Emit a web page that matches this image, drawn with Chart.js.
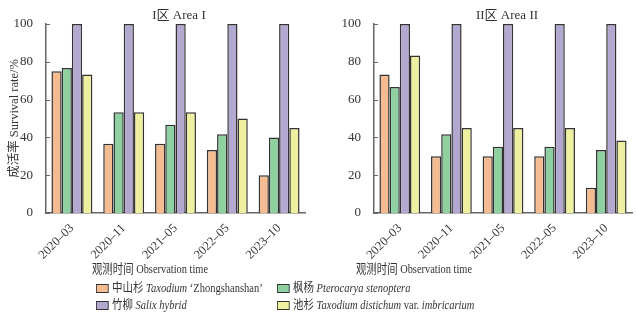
<!DOCTYPE html>
<html>
<head>
<meta charset="utf-8">
<script src="https://cdn.jsdelivr.net/npm/chart.js@4"></script>
<style>
  body { margin: 0; background: #fff; font-family: "Liberation Serif", "Noto Sans CJK SC", serif; color: #333; }
  #wrap { position: relative; width: 637px; height: 316px; overflow: hidden; }
  .box { position: absolute; top: 0; height: 262px; }
  .txt { position: absolute; white-space: nowrap; font-size: 12.5px; line-height: 14px; transform: scaleX(0.84); transform-origin: left center; }
  .ttl { position: absolute; white-space: nowrap; font-size: 13px; transform: translateX(-50%); }
  .xt { position: absolute; white-space: nowrap; font-size: 13px; transform: translateX(-50%) scaleX(0.8); }
  .sw { display: inline-block; width: 13px; height: 7px; border: 1.5px solid #333; margin-right: 4px; vertical-align: -1px; }
</style>
</head>
<body>
<div id="wrap">
  <div class="box" style="left:0;width:310px"><canvas id="c1"></canvas></div>
  <div class="box" style="left:320px;width:317px"><canvas id="c2"></canvas></div>

  <div class="ttl" style="left:179px;top:4px">I区 Area I</div>
  <div class="ttl" style="left:507px;top:4px">II区 Area II</div>
  <div class="xt" style="left:150px;top:258px">观测时间 Observation time</div>
  <div class="xt" style="left:414px;top:258px">观测时间 Observation time</div>

  <div class="txt" style="left:96px;top:281px"><span class="sw" style="background:#F5BB91"></span>中山杉 <i>Taxodium</i> ‘Zhongshanshan’</div>
  <div class="txt" style="left:277px;top:281px"><span class="sw" style="background:#8FD0A1"></span>枫杨 <i>Pterocarya stenoptera</i></div>
  <div class="txt" style="left:96px;top:298px"><span class="sw" style="background:#B3A8D0"></span>竹柳 <i>Salix hybrid</i></div>
  <div class="txt" style="left:277px;top:298px"><span class="sw" style="background:#EFEFA0"></span>池杉 <i>Taxodium distichum</i> var. <i>imbricarium</i></div>
</div>
<script>
// observation dates
const dates = ["2020–03", "2020–11", "2021–05", "2022–05", "2023–10"];

const species = ["中山杉 Taxodium ‘Zhongshanshan’", "枫杨 Pterocarya stenoptera", "竹柳 Salix hybrid", "池杉 Taxodium distichum var. imbricarium"];

// Area I survival rate (%)
const area1Zhongshan = [75, 36.7, 36.7, 33.3, 20];
const area1Pterocarya = [76.7, 53.3, 46.7, 41.7, 40];
const area1Salix = [100, 100, 100, 100, 100];
const area1Chishan = [73.3, 53.3, 53.3, 50, 45];

// Area II survival rate (%)
const area2Zhongshan = [73.3, 30, 30, 30, 13.3];
const area2Pterocarya = [66.7, 41.7, 35, 35, 33.3];
const area2Salix = [100, 100, 100, 100, 100];
const area2Chishan = [83.3, 45, 45, 45, 38.3];

const colors = ["#F5BB91", "#8FD0A1", "#B3A8D0", "#EFEFA0"];
const fontFam = "'Liberation Serif', 'Noto Sans CJK SC', serif";

// small ticks pointing into the plot on the y axis
const innerTicks = {
    id: "innerTicks",
    afterDraw(chart) {
        const { ctx, scales: { y } } = chart;
        ctx.save();
        ctx.strokeStyle = "#666";
        ctx.lineWidth = 1;
        y.ticks.forEach((t, i) => {
            const py = Math.round(y.getPixelForTick(i)) + 0.5;
            ctx.beginPath();
            ctx.moveTo(y.right, py);
            ctx.lineTo(y.right + 4, py);
            ctx.stroke();
        });
        ctx.restore();
    }
};

function makeChart(id, series, yWidth, padLeft, showTitle) {
    new Chart(document.getElementById(id), {
        type: "bar",
        data: {
            labels: dates,
            datasets: series.map((d, i) => ({
                label: species[i],
                data: d,
                backgroundColor: colors[i],
                borderColor: "#333",
                borderWidth: 1.5,
                borderSkipped: "bottom",
                barPercentage: 1.0,
                categoryPercentage: 0.79
            }))
        },
        options: {
            responsive: true,
            maintainAspectRatio: false,
            animation: false,
            layout: { padding: { top: 24, right: 5, left: padLeft, bottom: 0 } },
            scales: {
                x: {
                    grid: { display: false },
                    border: { color: "#666", width: 1.5 },
                    ticks: {
                        maxRotation: 45,
                        minRotation: 45,
                        color: "#333",
                        padding: 0,
                        font: { family: fontFam, size: 12.5 }
                    },
                    afterFit: s => { s.height = 49; }
                },
                y: {
                    min: 0,
                    max: 100,
                    grid: { display: false },
                    border: { color: "#666", width: 1.5 },
                    ticks: {
                        stepSize: 20,
                        color: "#333",
                        padding: 5,
                        font: { family: fontFam, size: 13 }
                    },
                    title: {
                        display: showTitle,
                        text: "成活率 Survival rate/%",
                        color: "#333",
                        padding: 0,
                        font: { family: fontFam, size: 12.5 }
                    },
                    afterFit: s => { s.width = yWidth; }
                }
            },
            plugins: {
                legend: { display: false },
                tooltip: { enabled: false }
            }
        },
        plugins: [innerTicks]
    });
}

makeChart("c1", [area1Zhongshan, area1Pterocarya, area1Salix, area1Chishan], 39, 7, true);
makeChart("c2", [area2Zhongshan, area2Pterocarya, area2Salix, area2Chishan], 54, 0, false);
</script>
</body>
</html>
